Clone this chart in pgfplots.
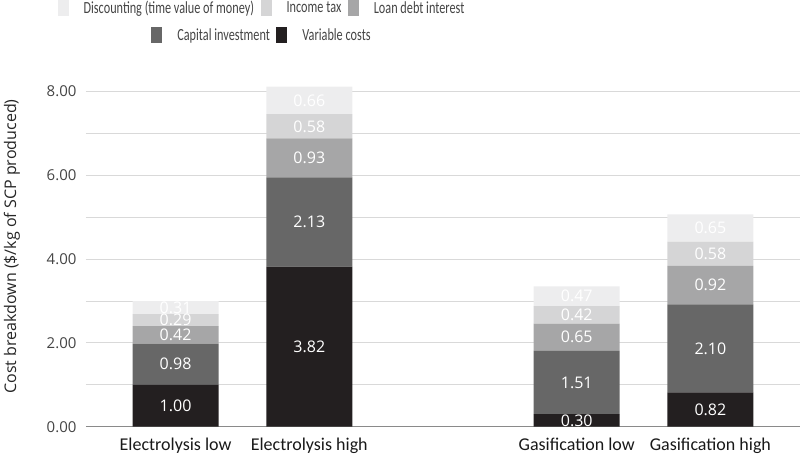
\documentclass[border=0pt]{standalone}
\usepackage{pgfplots}
\pgfplotsset{compat=1.18}
\usepackage{pgfplotstable}
\usepackage{graphicx}
\usepackage{fontspec}
\setmainfont{Open Sans}
\newfontfamily\carlito{Carlito}
\newfontfamily\opensans{Open Sans}
\definecolor{cdisc}{HTML}{EDEDEE}
\definecolor{ctax}{HTML}{D5D5D6}
\definecolor{cloan}{HTML}{A6A6A7}
\definecolor{ccap}{HTML}{676767}
\definecolor{cvar}{HTML}{231F20}
\definecolor{tickgray}{HTML}{444444}
\definecolor{gridgray}{HTML}{D9D9D9}
\definecolor{axgray}{HTML}{8A8A8A}

\pgfplotstableread{
x var cap loan tax disc
0 1.00 0.98 0.42 0.29 0.31
1 3.82 2.13 0.93 0.58 0.66
3 0.30 1.51 0.65 0.42 0.47
4 0.82 2.10 0.92 0.58 0.65
}\datatable

\pgfplotsset{
  legsq/.style={legend image code/.code={\fill[##1, draw=none] (0pt,-8pt) rectangle (11pt,8pt);}},
  mylegend/.style={
    legend style={draw=none, fill=none, inner sep=0pt,
      nodes={inner sep=0pt, text=tickgray},
      font=\carlito\fontsize{17}{20}\selectfont,
      /tikz/every even column/.append style={column sep=6.5pt},
      /tikz/every odd column/.append style={column sep=15pt}},
    legend cell align=left,
  },
}

\begin{document}
\begin{tikzpicture}
\begin{axis}[name=ax,
  scale only axis, width=714pt, height=360.3pt,
  xmin=-0.67, xmax=4.67, ymin=0, ymax=8.6,
  ybar stacked, bar width=86pt,
  clip=false,
  axis line style={draw=none},
  xtick={0,1,3,4},
  xticklabels={Electrolysis low, Electrolysis high, Gasification low, Gasification high},
  xtick style={draw=none},
  xticklabel style={anchor=base, yshift=-24pt, font=\carlito\fontsize{18}{21}\selectfont, text=black!90},
  ytick={1,2,3,4,5,6,7,8},
  ytick style={draw=none},
  yticklabels={,2.00,,4.00,,6.00,,8.00},
  yticklabel style={anchor=east, xshift=-6pt, font=\opensans\fontsize{15}{17}\selectfont, text=tickgray},
  extra y ticks={0},
  extra y tick labels={0.00},
  extra y tick style={grid style={draw=axgray, line width=1.3pt}},
  ymajorgrids, grid style={draw=gridgray, line width=0.9pt},
  ylabel={Cost breakdown (\$/kg of SCP produced)},
  ylabel style={at={(axis description cs:-0.1036,0.5)}, anchor=center, font=\opensans\fontsize{16}{19}\selectfont, text=black!85},
  point meta=explicit,
  nodes near coords={\pgfmathprintnumber[fixed,fixed zerofill,precision=2,assume math mode=true]{\pgfplotspointmeta}},
  nodes near coords style={anchor=center, font=\opensans\fontsize{16}{18}\selectfont, text=white},
  mylegend, legend columns=3,
  legend style={at={(axis description cs:0.2451,1.162)}, anchor=center},
]
\addlegendimage{legsq, fill=cdisc}
\addlegendentry{\scalebox{0.72}[1]{Discounting (time value of money)}}
\addlegendimage{legsq, fill=ctax}
\addlegendentry{\scalebox{0.72}[1]{Income tax}}
\addlegendimage{legsq, fill=cloan}
\addlegendentry{\scalebox{0.72}[1]{Loan debt interest}}

\addplot[fill=cvar, draw=none] table[x=x, y=var, meta=var] {\datatable};
\addplot[fill=ccap, draw=none] table[x=x, y=cap, meta=cap] {\datatable};
\addplot[fill=cloan, draw=none] table[x=x, y=loan, meta=loan] {\datatable};
\addplot[fill=ctax, draw=none] table[x=x, y=tax, meta=tax] {\datatable};
\addplot[fill=cdisc, draw=none] table[x=x, y=disc, meta=disc] {\datatable};
\end{axis}

\begin{axis}[
  scale only axis, width=714pt, height=360.3pt,
  xmin=-0.67, xmax=4.67, ymin=0, ymax=8.6,
  hide axis,
  mylegend, legend columns=2,
  legend style={at={(axis description cs:0.2451,1.087)}, anchor=center},
]
\addlegendimage{legsq, fill=ccap}
\addlegendentry{\scalebox{0.72}[1]{Capital investment}}
\addlegendimage{legsq, fill=cvar}
\addlegendentry{\scalebox{0.72}[1]{Variable costs}}
\end{axis}

\pgfresetboundingbox
\path (ax.south west) ++(-86pt,-28.3pt) rectangle ++(800pt,455pt);
\end{tikzpicture}
\end{document}
